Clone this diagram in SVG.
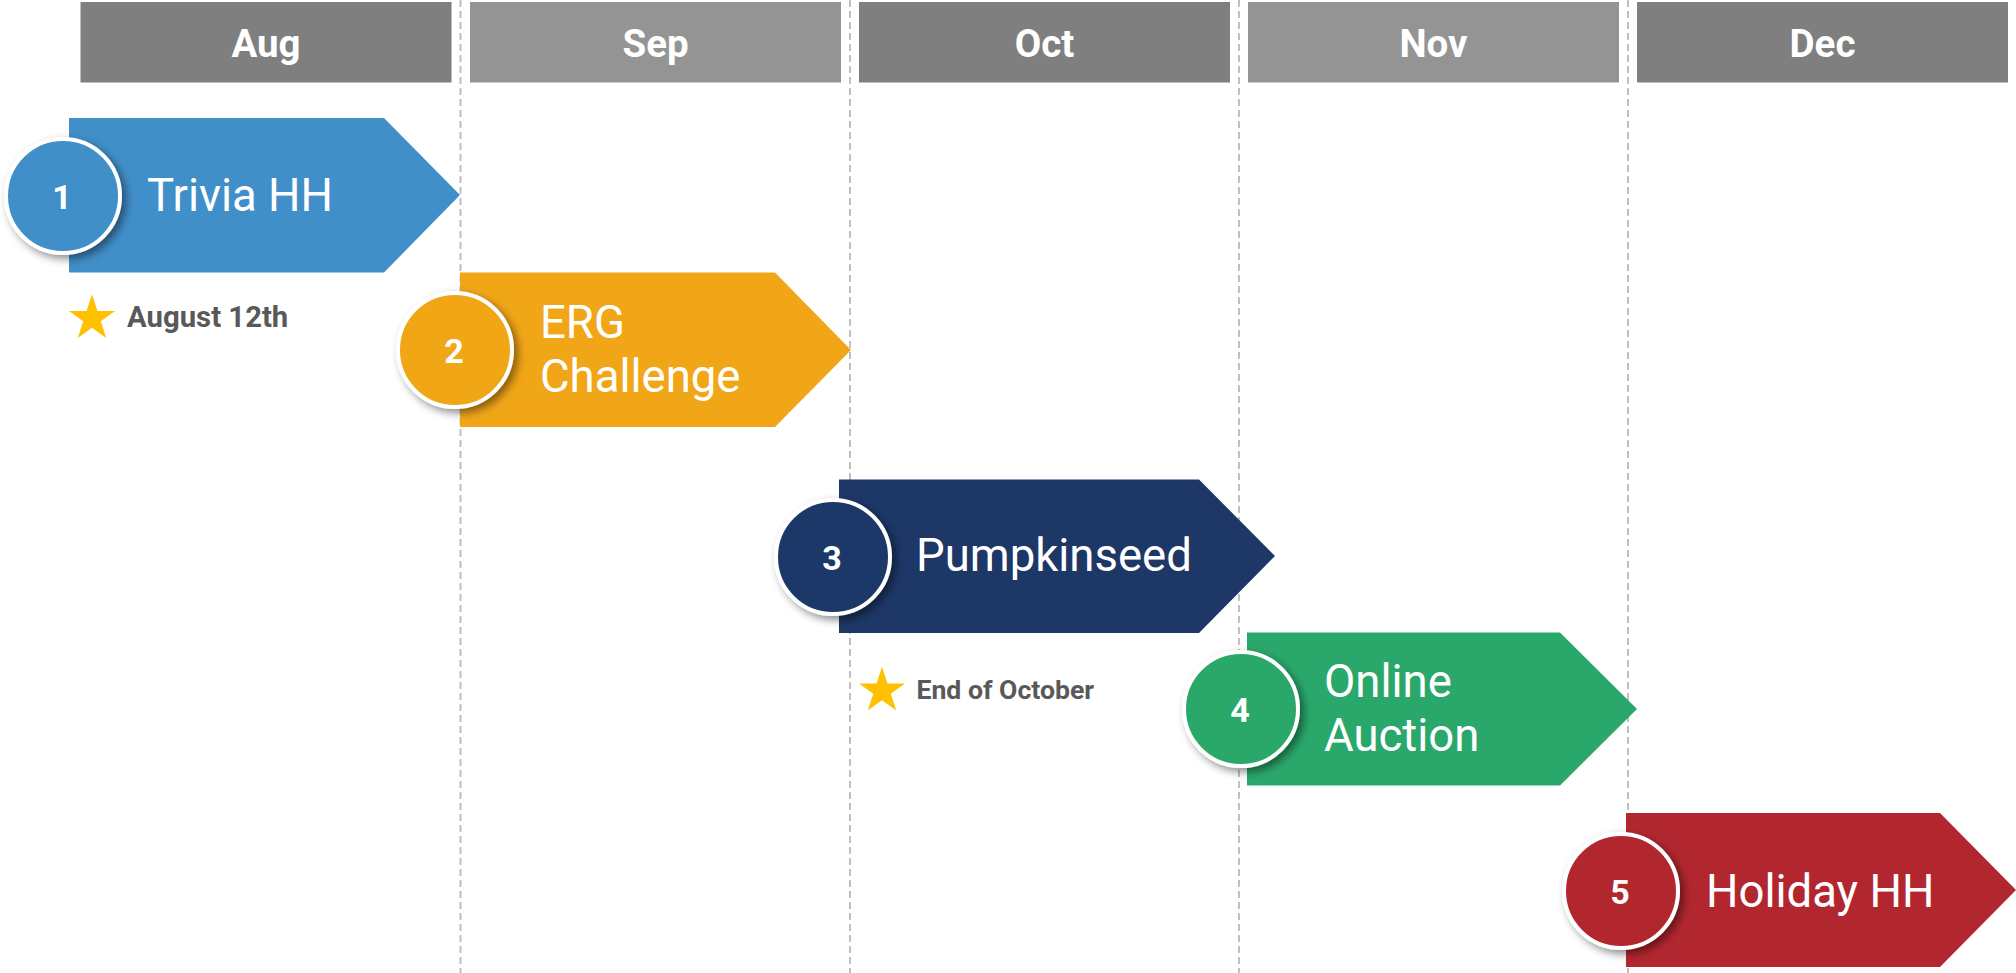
<svg xmlns="http://www.w3.org/2000/svg" width="2016" height="973" viewBox="0 0 2016 973">
<defs>
<style>
.hdr{font-family:Roboto,"Liberation Sans",sans-serif;font-weight:700;font-size:38.5px;fill:#fff;text-anchor:middle}
.hd1{fill:#7f7f7f}
.hd2{fill:#949494}
.grid{stroke:#c0c0c0;stroke-width:2;stroke-dasharray:7 4;fill:none}
.lbl{font-family:Roboto,"Liberation Sans",sans-serif;font-size:45.5px;fill:#fff}
.num{font-family:Roboto,"Liberation Sans",sans-serif;font-weight:700;font-size:34px;fill:#fff;text-anchor:middle}
.circ{stroke:#fff;stroke-width:4;filter:url(#sh)}
.note{font-family:Roboto,"Liberation Sans",sans-serif;font-weight:700;fill:#595959}
.star{fill:#ffc000}
</style>
<filter id="sh" x="-30%" y="-30%" width="160%" height="160%">
<feDropShadow dx="4" dy="4" stdDeviation="4" flood-color="#000" flood-opacity="0.45"/>
</filter>
</defs>
<rect width="2016" height="973" fill="#fff"/>
<g id="gridlines">
<line class="grid" x1="460.5" y1="0" x2="460.5" y2="973"/>
<line class="grid" x1="850" y1="0" x2="850" y2="973"/>
<line class="grid" x1="1239" y1="0" x2="1239" y2="973"/>
<line class="grid" x1="1628" y1="0" x2="1628" y2="973"/>
</g>
<g id="header-aug"><rect class="hd1" x="80.5" y="2" width="371" height="80.5"/><text class="hdr" x="266" y="57">Aug</text></g>
<g id="header-sep"><rect class="hd2" x="470" y="2" width="371" height="80.5"/><text class="hdr" x="655.5" y="57">Sep</text></g>
<g id="header-oct"><rect class="hd1" x="859" y="2" width="371" height="80.5"/><text class="hdr" x="1044.5" y="57">Oct</text></g>
<g id="header-nov"><rect class="hd2" x="1248" y="2" width="371" height="80.5"/><text class="hdr" x="1433.5" y="57">Nov</text></g>
<g id="header-dec"><rect class="hd1" x="1637" y="2" width="371" height="80.5"/><text class="hdr" x="1822.5" y="57">Dec</text></g>

<g id="event-1">
<polygon fill="#418fc9" points="69,118 384,118 460,195 384,272.5 69,272.5"/>
<circle class="circ" fill="#418fc9" cx="63" cy="196" r="57"/>
<text class="num" x="62" y="208.5">1</text>
<text class="lbl" x="147" y="211">Trivia HH</text>
</g>
<g id="event-2">
<polygon fill="#f1a618" points="460,272.5 775,272.5 851,350 775,427 460,427"/>
<circle class="circ" fill="#f1a618" cx="455" cy="350" r="57"/>
<text class="num" x="454" y="362.5">2</text>
<text class="lbl" x="540" y="338">ERG</text>
<text class="lbl" x="540" y="392">Challenge</text>
</g>
<g id="event-3">
<polygon fill="#1d3767" points="839,479.5 1199,479.5 1275,556 1199,633 839,633"/>
<circle class="circ" fill="#1d3767" cx="833" cy="557" r="57"/>
<text class="num" x="832" y="569.5">3</text>
<text class="lbl" x="916" y="571">Pumpkinseed</text>
</g>
<g id="event-4">
<polygon fill="#2aa86b" points="1247,632.5 1560,632.5 1637,709 1560,785.5 1247,785.5"/>
<circle class="circ" fill="#2aa86b" cx="1241" cy="709" r="57"/>
<text class="num" x="1240" y="721.5">4</text>
<text class="lbl" x="1324" y="697">Online</text>
<text class="lbl" x="1324" y="751">Auction</text>
</g>
<g id="event-5">
<polygon fill="#b2272f" points="1626,813 1940,813 2016,890 1940,967 1626,967"/>
<circle class="circ" fill="#b2272f" cx="1621" cy="891" r="57"/>
<text class="num" x="1620" y="903.5">5</text>
<text class="lbl" x="1706" y="907">Holiday HH</text>
</g>

<g id="note-aug">
<polygon class="star" transform="translate(92,318.5) scale(24.2)" points="0,-1 0.2245,-0.309 0.951,-0.309 0.3633,0.118 0.5878,0.809 0,0.382 -0.5878,0.809 -0.3633,0.118 -0.951,-0.309 -0.2245,-0.309"/>
<text class="note" x="127" y="327" font-size="29.3">August 12th</text>
</g>
<g id="note-oct">
<polygon class="star" transform="translate(882,691) scale(24.2)" points="0,-1 0.2245,-0.309 0.951,-0.309 0.3633,0.118 0.5878,0.809 0,0.382 -0.5878,0.809 -0.3633,0.118 -0.951,-0.309 -0.2245,-0.309"/>
<text class="note" x="916.5" y="699" font-size="26.6">End of October</text>
</g>
</svg>
